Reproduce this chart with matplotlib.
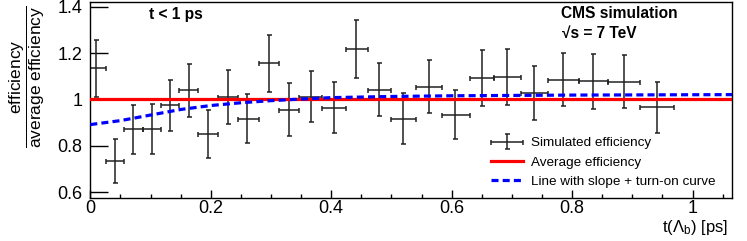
# efficiency / average efficiency vs t(Lambda_b), t < 1 ps
import matplotlib
matplotlib.use("Agg")
import matplotlib.pyplot as plt
from matplotlib.ticker import FixedLocator, MultipleLocator
from matplotlib.legend_handler import HandlerErrorbar

plt.rcParams['font.family'] = ['Liberation Sans', 'DejaVu Sans']
plt.rcParams['mathtext.fontset'] = 'custom'
plt.rcParams['mathtext.rm'] = 'Liberation Sans'
plt.rcParams['mathtext.it'] = 'Liberation Sans'
plt.rcParams['mathtext.bf'] = 'Liberation Sans:bold'

# simulated efficiency points
t_center = [0.0095, 0.041, 0.0715, 0.102, 0.132, 0.164, 0.196, 0.228, 0.261, 0.297,
            0.330, 0.366, 0.404, 0.442, 0.480, 0.520, 0.562, 0.606, 0.650, 0.692,
            0.736, 0.785, 0.835, 0.887, 0.941]
bin_lo = [0.0, 0.0255, 0.056, 0.088, 0.118, 0.147, 0.178, 0.212, 0.245, 0.280,
          0.313, 0.347, 0.385, 0.424, 0.461, 0.500, 0.541, 0.584, 0.630, 0.671,
          0.715, 0.760, 0.811, 0.859, 0.913]
bin_hi = [0.0255, 0.056, 0.088, 0.118, 0.147, 0.178, 0.212, 0.245, 0.280, 0.313,
          0.347, 0.385, 0.424, 0.461, 0.500, 0.541, 0.584, 0.630, 0.671, 0.715,
          0.760, 0.811, 0.859, 0.913, 0.970]
eff_ratio = [1.134, 0.734, 0.872, 0.872, 0.975, 1.040, 0.850, 1.011, 0.918, 1.156,
             0.956, 1.012, 0.965, 1.219, 1.043, 0.917, 1.054, 0.935, 1.093, 1.097,
             1.028, 1.085, 1.079, 1.077, 0.966]
eff_err = [0.124, 0.095, 0.105, 0.107, 0.111, 0.115, 0.103, 0.115, 0.107, 0.123,
           0.113, 0.109, 0.110, 0.125, 0.114, 0.109, 0.114, 0.106, 0.120, 0.121,
           0.118, 0.114, 0.119, 0.115, 0.109]

avg_eff = 1.0

# fitted line with slope + turn-on curve
fit_t = [0.0, 0.05, 0.1, 0.15, 0.2, 0.25, 0.3, 0.35, 0.4, 0.5, 0.6, 0.8, 1.066]
fit_y = [0.892, 0.909, 0.933, 0.957, 0.974, 0.986, 0.995, 1.002, 1.008, 1.013, 1.016, 1.019, 1.021]

y_ticks = [0.6, 0.8, 1.0, 1.2, 1.4]
y_ticklabels = ['0.6', '0.8', '1', '1.2', '1.4']
x_ticks = [0, 0.2, 0.4, 0.6, 0.8, 1.0]
x_ticklabels = ['0', '0.2', '0.4', '0.6', '0.8', '1']

fig = plt.figure(figsize=(7.47, 2.41), dpi=100)
ax = fig.add_axes([0.1209, 0.1797, 0.9803 - 0.1209, 0.9917 - 0.1797])

xerr = [[c - lo for c, lo in zip(t_center, bin_lo)],
        [hi - c for c, hi in zip(t_center, bin_hi)]]
h_sim = ax.errorbar(t_center, eff_ratio, xerr=xerr, yerr=eff_err, fmt='none',
                    ecolor='#222222', elinewidth=1.1, capsize=1.8, capthick=1.1,
                    label='Simulated efficiency', zorder=2)
h_avg = ax.axhline(avg_eff, color='#ff0000', lw=2.3, label='Average efficiency', zorder=3)
h_fit, = ax.plot(fit_t, fit_y, color='#0000ff', lw=2.3, ls=(0, (2.2, 1.3)),
                 label='Line with slope + turn-on curve', zorder=4)

ax.set_xlim(0, 1.066)
ax.set_ylim(0.577, 1.42)

ax.yaxis.set_major_locator(FixedLocator(y_ticks))
ax.set_yticklabels(y_ticklabels)
ax.xaxis.set_major_locator(FixedLocator(x_ticks))
ax.set_xticklabels(x_ticklabels)
ax.xaxis.set_minor_locator(MultipleLocator(0.05))

ax.tick_params(axis='y', which='major', direction='in', length=13, width=1,
               labelsize=13, pad=5.5)
ax.tick_params(axis='x', which='major', direction='in', length=6, width=1,
               labelsize=13, pad=1.5)
ax.tick_params(axis='x', which='minor', direction='in', length=3, width=1)
for s in ax.spines.values():
    s.set_linewidth(1.0)

ax.set_ylabel(r'$\dfrac{\mathrm{efficiency}}{\mathrm{average\ efficiency}}$', fontsize=12.5)
ax.yaxis.set_label_coords(-0.068, 0.617)

ax.set_xlabel(r't($\Lambda_{\mathrm{b}}$) [ps]', fontsize=12, ha='right', va='center')
ax.xaxis.set_label_coords(0.993, -0.15)

ax.text(149, 226, 't < 1 ps', transform=None, fontsize=11.2, fontweight='bold',
        va='center', ha='left')
ax.text(561, 228, 'CMS simulation', transform=None, fontsize=11.2, fontweight='bold',
        va='center', ha='left')
ax.text(562, 208, '\u221as = 7 TeV', transform=None, fontsize=11.2, fontweight='bold',
        va='center', ha='left')

leg = ax.legend(handles=[h_sim, h_avg, h_fit], loc='upper left',
                bbox_to_anchor=(491 / 747, 1 - 137 / 241),
                bbox_transform=fig.transFigure, frameon=False, fontsize=9.7,
                handlelength=2.4, handletextpad=0.6, labelspacing=0.5,
                borderaxespad=0, borderpad=0,
                handler_map={type(h_sim): HandlerErrorbar(xerr_size=1.2, yerr_size=0.55)})

fig.savefig('out.png', dpi=100)
